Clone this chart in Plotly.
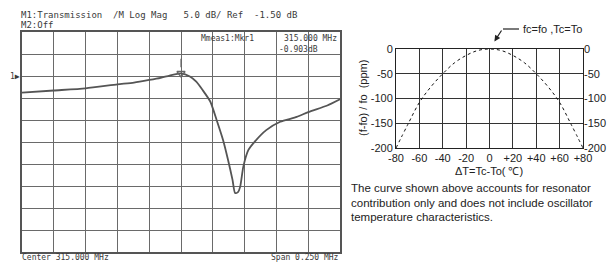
import plotly.graph_objects as go

# ---------------- data ----------------
# Left: network analyzer trace (MHz, dB)
freq_mhz = [314.875, 314.900, 314.925, 314.950, 314.963, 314.975, 314.984, 314.991,
            315.000, 315.007, 315.012, 315.017, 315.023, 315.028, 315.033, 315.037,
            315.0405, 315.0425, 315.0448, 315.0465, 315.049, 315.053, 315.058,
            315.067, 315.078, 315.091, 315.100, 315.115, 315.125]
trace_db = [-5.3, -4.8, -4.3, -3.4, -3.0, -2.4, -1.9, -1.4,
            -0.9, -1.6, -2.8, -4.7, -7.3, -11.5, -16.0, -20.6,
            -25.1, -28.1, -27.9, -26.7, -22.1, -18.3, -16.4,
            -13.8, -11.9, -10.8, -9.7, -8.2, -6.8]
marker_freq = [315.000]
marker_db = [-0.903]

# Right: frequency-temperature curve
delta_t = [-80, -70, -60, -50, -40, -30, -20, -10, 0, 10, 20, 30, 40, 50, 60, 70, 80]
ppm = [-200, -153, -108, -76, -50, -28, -13, -3, 0, -3, -13, -28, -50, -76, -108, -153, -200]

x_ticks = [-80, -60, -40, -20, 0, 20, 40, 60, 80]
x_ticktext = ["-80", "-60", "-40", "-20", "0", "+20", "+40", "+60", "+80"]
y_ticks = [0, -50, -100, -150, -200]
y_ticktext = ["0", "-50", "-100", "-150", "-200"]

header1 = "M1:Transmission  /M Log Mag   5.0 dB/ Ref  -1.50 dB"
header2 = "M2:Off"
mkr_line1 = "Mmeas1:Mkr1"
mkr_line2 = "315.000 MHz"
mkr_line3 = "-0.903dB"
footer_left = "Center 315.000 MHz"
footer_right = "Span 0.250 MHz"
note_lines = ["The curve shown above accounts for resonator",
              "contribution only and does not include oscillator",
              "temperature characteristics."]

# ---------------- layout helpers ----------------
W, H = 615, 262
def px(x): return x / W
def py(y): return 1 - y / H

MONO = "DejaVu Sans Mono"
SANS = "Liberation Sans, Arial, sans-serif"

fig = go.Figure()

fig.add_trace(go.Scatter(x=freq_mhz, y=trace_db, mode="lines",
                         line=dict(color="#555555", width=1.8, shape="spline", smoothing=0.6),
                         xaxis="x", yaxis="y", showlegend=False, hoverinfo="skip"))
fig.add_trace(go.Scatter(x=marker_freq, y=marker_db, mode="markers",
                         marker=dict(symbol="triangle-down-open", size=7,
                                     color="#666666", line=dict(width=1.5, color="#666666")),
                         xaxis="x", yaxis="y", showlegend=False, hoverinfo="skip"))

fig.add_trace(go.Scatter(x=delta_t, y=ppm, mode="lines",
                         line=dict(color="#111111", width=1, dash="dot", shape="spline"),
                         xaxis="x2", yaxis="y2", showlegend=False, hoverinfo="skip"))
fig.add_trace(go.Scatter(x=delta_t, y=ppm, mode="lines", opacity=0,
                         xaxis="x2", yaxis="y3", showlegend=False, hoverinfo="skip"))

grid_l = dict(showgrid=True, gridcolor="#6a6a6a", gridwidth=1.4, zeroline=False,
              showline=True, linecolor="#555555", linewidth=1.5, mirror=True,
              showticklabels=False, ticks="", automargin=False)
right_font = dict(family=SANS, size=11, color="#222222")

fig.update_layout(
    width=W, height=H, margin=dict(l=0, r=0, t=0, b=0, autoexpand=False),
    paper_bgcolor="white", plot_bgcolor="white",
    xaxis=dict(domain=[px(22), px(340)], range=[314.875, 315.125], tick0=314.875,
               dtick=0.025, anchor="y", **grid_l),
    yaxis=dict(domain=[py(252), py(32)], range=[-41.5, 8.5], tick0=-1.5, dtick=5,
               anchor="x", **grid_l),
    xaxis2=dict(domain=[px(396), px(583)], range=[-80, 80], anchor="y2",
                tickvals=x_ticks, ticktext=x_ticktext, tickfont=right_font, tickangle=0,
                showgrid=True, gridcolor="#333333", gridwidth=1, zeroline=False,
                showline=True, linecolor="#222222", linewidth=1, mirror=True, ticks="",
                automargin=False),
    yaxis2=dict(domain=[py(148), py(49)], range=[-200, 0], anchor="x2",
                tickvals=y_ticks, ticktext=y_ticktext, tickfont=right_font,
                showgrid=True, gridcolor="#333333", gridwidth=1, zeroline=False,
                showline=True, linecolor="#222222", linewidth=1, mirror=True, ticks="",
                automargin=False),
    yaxis3=dict(overlaying="y2", side="right", anchor="x2", range=[-200, 0],
                tickvals=y_ticks, ticktext=y_ticktext, tickfont=right_font,
                showgrid=False, zeroline=False, showline=False, ticks="",
                automargin=False),
)

mono_font = dict(family=MONO, size=9, color="#3a3a3a")
small_mono = dict(family=MONO, size=8, color="#3a3a3a")
ann = []
ann.append(dict(x=px(19), y=py(15), xref="paper", yref="paper", text=header1,
                showarrow=False, xanchor="left", yanchor="middle", font=mono_font))
ann.append(dict(x=px(19), y=py(25), xref="paper", yref="paper", text=header2,
                showarrow=False, xanchor="left", yanchor="middle", font=mono_font))
ann.append(dict(x=px(199), y=py(39), xref="paper", yref="paper", text=mkr_line1,
                showarrow=False, xanchor="left", yanchor="middle", font=small_mono))
ann.append(dict(x=px(339), y=py(39), xref="paper", yref="paper", text=mkr_line2,
                showarrow=False, xanchor="right", yanchor="middle", font=small_mono))
ann.append(dict(x=px(277), y=py(49), xref="paper", yref="paper", text=mkr_line3,
                showarrow=False, xanchor="left", yanchor="middle", font=small_mono))
ann.append(dict(x=px(20), y=py(257), xref="paper", yref="paper", text=footer_left,
                showarrow=False, xanchor="left", yanchor="middle", font=small_mono))
ann.append(dict(x=px(341), y=py(257), xref="paper", yref="paper", text=footer_right,
                showarrow=False, xanchor="right", yanchor="middle", font=small_mono))
ann.append(dict(x=px(22), y=py(76), xref="paper", yref="paper", text="1▶",
                showarrow=False, xanchor="right", yanchor="middle", font=small_mono))
# marker stem
ann.append(dict(x=315.0, y=marker_db[0], xref="x", yref="y", text="", showarrow=True,
                ax=0, ay=-16, arrowhead=0, arrowwidth=1.2, arrowcolor="#666666",
                standoff=6))

# right panel texts
ann.append(dict(x=px(363), y=py(98), xref="paper", yref="paper",
                text="(f-fo) / fo  (ppm)", textangle=-90, showarrow=False,
                xanchor="center", yanchor="middle", font=right_font))
ann.append(dict(x=px(489), y=py(171), xref="paper", yref="paper",
                text="ΔT=Tc-To( ℃)", showarrow=False,
                xanchor="center", yanchor="middle", font=right_font))
for i, line in enumerate(note_lines):
    ann.append(dict(x=px(349), y=py(188 + i * 14.5), xref="paper", yref="paper",
                    text=line, showarrow=False, xanchor="left", yanchor="middle",
                    font=dict(family=SANS, size=11.5, color="#222222")))
ann.append(dict(x=px(521), y=py(29), xref="paper", yref="paper",
                text="fc=fo ,Tc=To", showarrow=False, xanchor="left", yanchor="middle",
                font=right_font))
# arrow to the turnover point
ann.append(dict(x=0, y=0, xref="x2", yref="y2", text="", showarrow=True,
                ax=13, ay=-20, arrowhead=2, arrowsize=1, arrowwidth=1.2,
                arrowcolor="#222222", standoff=9))
fig.update_layout(annotations=ann)

fig.add_shape(type="line", xref="paper", yref="paper",
              x0=px(503), x1=px(519), y0=py(29), y1=py(29),
              line=dict(color="#222222", width=1.2))

fig.write_html("out.html", config={"displayModeBar": False},
               post_script="document.body.style.margin='0';")
